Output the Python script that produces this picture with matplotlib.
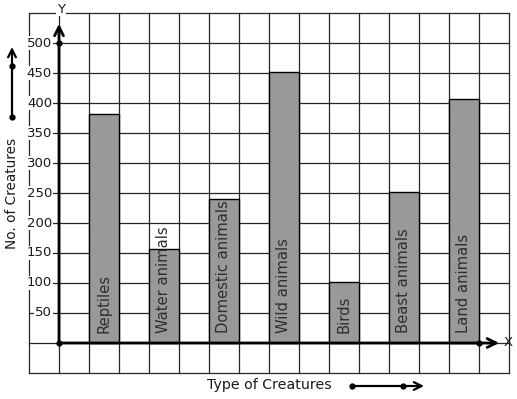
import matplotlib
matplotlib.use("Agg")
import matplotlib.pyplot as plt

categories = ["Reptiles", "Water animals", "Domestic animals", "Wild animals",
              "Birds", "Beast animals", "Land animals"]
values = [382, 157, 240, 451, 102, 251, 406]
ytick_values = [50, 100, 150, 200, 250, 300, 350, 400, 450, 500]
ytick_labels = ["50", "100", "150", "200", "250", "300", "350", "400", "450", "500"]
x_label = "Type of Creatures"
y_label = "No. of Creatures"

plt.rcParams['font.family'] = ['DejaVu Sans']

W, H = 517, 399
fig = plt.figure(figsize=(W / 100, H / 100), dpi=100)
ax = fig.add_axes([0, 0, 1, 1])
ax.set_axis_off()
# grid unit: 1 cell = 30 px horizontally, 50 value units = 30 px vertically
ax.set_xlim(-59 / 30, (W - 59) / 30)
ax.set_ylim((343 - H) / 0.6, 343 / 0.6)

gc = '#262626'
# grid
for u in range(-1, 16):
    ax.plot([u, u], [-50, 550], color=gc, lw=0.9, zorder=1)
for v in range(-50, 551, 50):
    ax.plot([-1, 15], [v, v], color=gc, lw=0.9, zorder=1)

# bars
xs = [1.5 + 2 * i for i in range(len(categories))]
ax.bar(xs, values, width=1.0, color='#999999', edgecolor='black', lw=1.0, zorder=2)
for x, name in zip(xs, categories):
    ax.text(x, 16, name, rotation=90, ha='left', va='center', fontsize=10.6,
            color='#2e2e2e', zorder=3, rotation_mode='anchor')

# axes with arrows
ax.annotate('', xy=(0, 532), xytext=(0, 0),
            arrowprops=dict(arrowstyle='->', lw=2.0, color='black',
                            mutation_scale=16, shrinkA=0, shrinkB=0), zorder=5)
ax.annotate('', xy=(14.67, 0), xytext=(0, 0),
            arrowprops=dict(arrowstyle='->', lw=2.0, color='black',
                            mutation_scale=16, shrinkA=0, shrinkB=0), zorder=5)
ax.plot([0, 0, 14], [0, 500, 0], 'o', color='black', ms=3.5, zorder=6)

# tick labels
for v, lab in zip(ytick_values, ytick_labels):
    ax.text(-0.23, v, lab, ha='right', va='center', fontsize=9.5, color='#1a1a1a',
            zorder=4, bbox=dict(facecolor='white', edgecolor='none', pad=0.6))

ax.text(61 / 30 - 59 / 30, (343 - 9) / 0.6, 'Y', ha='center', va='center',
        fontsize=9.5, color='#1a1a1a', zorder=4,
        bbox=dict(facecolor='white', edgecolor='none', pad=0.5))
ax.text((508 - 59) / 30, 0, 'X', ha='center', va='center', fontsize=9.5,
        color='#1a1a1a', zorder=4)

# axis titles with decorative arrows
ax.text((12 - 59) / 30, (343 - 193) / 0.6, y_label, rotation=90, ha='center',
        va='center', fontsize=9.8, color='#1a1a1a')
ax.annotate('', xy=((12 - 59) / 30, (343 - 47) / 0.6),
            xytext=((12 - 59) / 30, (343 - 117) / 0.6),
            arrowprops=dict(arrowstyle='->', lw=1.6, color='black',
                            mutation_scale=14, shrinkA=0, shrinkB=0))
ax.plot([(12 - 59) / 30] * 2, [(343 - 66) / 0.6, (343 - 117) / 0.6], 'o',
        color='black', ms=3.5)

ax.text((269.5 - 59) / 30, (343 - 385) / 0.6, x_label, ha='center', va='center',
        fontsize=10.2, color='#1a1a1a')
ax.annotate('', xy=((424 - 59) / 30, (343 - 386) / 0.6),
            xytext=((352 - 59) / 30, (343 - 386) / 0.6),
            arrowprops=dict(arrowstyle='->', lw=1.6, color='black',
                            mutation_scale=14, shrinkA=0, shrinkB=0))
ax.plot([(352 - 59) / 30, (403 - 59) / 30], [(343 - 386) / 0.6] * 2, 'o',
        color='black', ms=3.5)

fig.savefig('out.png', dpi=100, facecolor='white')
